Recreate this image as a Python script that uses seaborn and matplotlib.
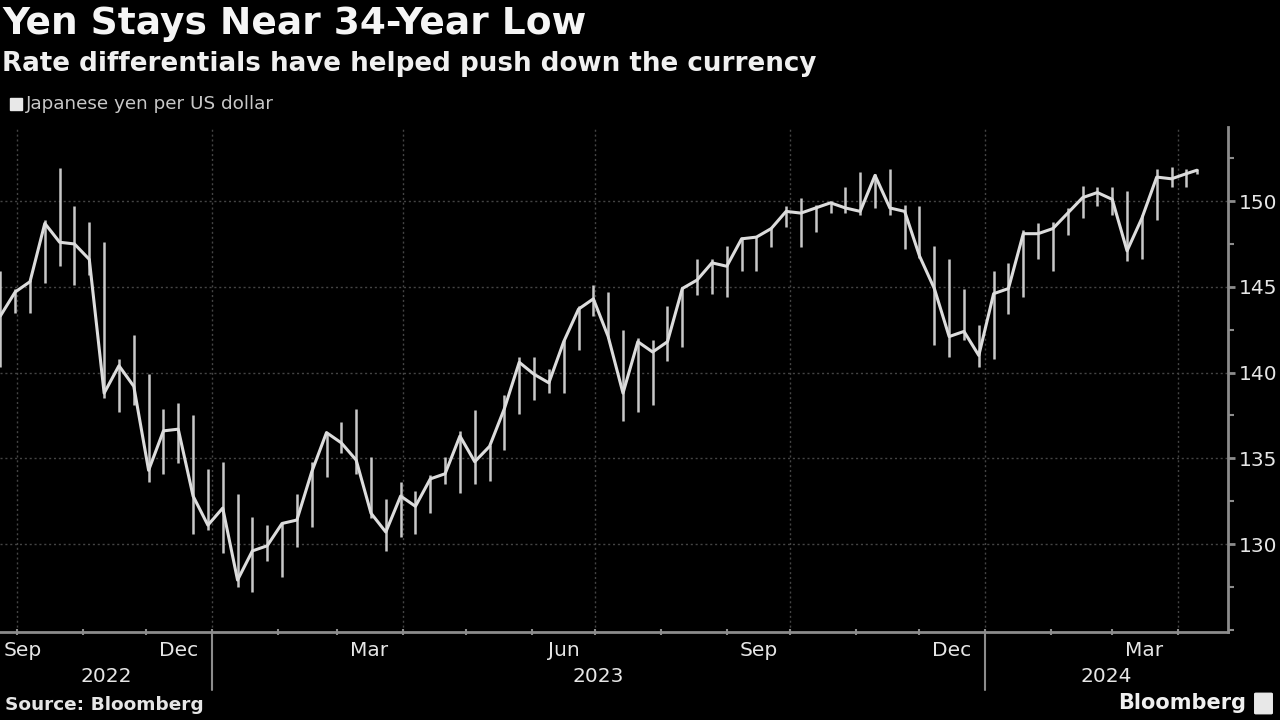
import numpy as np
import pandas as pd
import matplotlib
matplotlib.use("Agg")
import matplotlib.pyplot as plt
import matplotlib.dates as mdates
import matplotlib.transforms as mtransforms
from matplotlib.patches import Rectangle, FancyBboxPatch
from matplotlib.ticker import MultipleLocator, NullFormatter
import seaborn as sns

# ---- data (weekly) ----
week_end = ['2022-09-23', '2022-09-30', '2022-10-07', '2022-10-14', '2022-10-21', '2022-10-28',
            '2022-11-04', '2022-11-11', '2022-11-18', '2022-11-25', '2022-12-02', '2022-12-09',
            '2022-12-16', '2022-12-23', '2022-12-30', '2023-01-06', '2023-01-13', '2023-01-20',
            '2023-01-27', '2023-02-03', '2023-02-10', '2023-02-17', '2023-02-24', '2023-03-03',
            '2023-03-10', '2023-03-17', '2023-03-24', '2023-03-31', '2023-04-07', '2023-04-14',
            '2023-04-21', '2023-04-28', '2023-05-05', '2023-05-12', '2023-05-19', '2023-05-26',
            '2023-06-02', '2023-06-09', '2023-06-16', '2023-06-23', '2023-06-30', '2023-07-07',
            '2023-07-14', '2023-07-21', '2023-07-28', '2023-08-04', '2023-08-11', '2023-08-18',
            '2023-08-25', '2023-09-01', '2023-09-08', '2023-09-15', '2023-09-22', '2023-09-29',
            '2023-10-06', '2023-10-13', '2023-10-20', '2023-10-27', '2023-11-03', '2023-11-10',
            '2023-11-17', '2023-11-24', '2023-12-01', '2023-12-08', '2023-12-15', '2023-12-22',
            '2023-12-29', '2024-01-05', '2024-01-12', '2024-01-19', '2024-01-26', '2024-02-02',
            '2024-02-09', '2024-02-16', '2024-02-23', '2024-03-01', '2024-03-08', '2024-03-15',
            '2024-03-22', '2024-03-29', '2024-04-05', '2024-04-10']
close = [143.3, 144.7, 145.3, 148.7, 147.6, 147.5,
         146.6, 138.8, 140.4, 139.2, 134.3, 136.6,
         136.7, 132.8, 131.1, 132.1, 127.9, 129.6,
         129.9, 131.2, 131.4, 134.2, 136.5, 135.9,
         134.9, 131.8, 130.7, 132.8, 132.2, 133.8,
         134.1, 136.3, 134.8, 135.7, 137.9, 140.6,
         139.9, 139.4, 141.8, 143.7, 144.3, 142.1,
         138.8, 141.8, 141.2, 141.8, 144.9, 145.4,
         146.4, 146.2, 147.8, 147.9, 148.4, 149.4,
         149.3, 149.6, 149.9, 149.6, 149.4, 151.5,
         149.6, 149.4, 146.8, 144.9, 142.1, 142.4,
         141.0, 144.6, 144.9, 148.1, 148.1, 148.4,
         149.3, 150.2, 150.5, 150.1, 147.1, 149.0,
         151.4, 151.3, 151.6, 151.8]
high = [145.9, 144.9, 145.4, 148.9, 151.95, 149.7,
        148.8, 147.6, 140.8, 142.2, 139.9, 137.9,
        138.2, 137.5, 134.4, 134.8, 132.9, 131.6,
        131.1, 131.2, 132.9, 134.8, 136.5, 137.1,
        137.9, 135.1, 132.6, 133.6, 133.1, 134.0,
        135.1, 136.6, 137.8, 135.8, 138.7, 140.9,
        140.9, 140.2, 141.9, 143.9, 145.1, 144.7,
        142.5, 142.0, 141.9, 143.9, 145.0, 146.6,
        146.6, 147.4, 147.9, 147.9, 148.5, 149.7,
        150.2, 149.8, 150.0, 150.8, 151.7, 151.6,
        151.9, 149.8, 149.7, 147.4, 146.6, 144.9,
        142.8, 145.9, 146.4, 148.3, 148.7, 148.8,
        149.6, 150.9, 150.8, 150.8, 150.6, 149.2,
        151.9, 151.97, 151.9, 151.9]
low = [140.3, 143.5, 143.5, 145.2, 146.2, 145.1,
       145.7, 138.5, 137.7, 138.1, 133.6, 134.1,
       134.7, 130.6, 130.8, 129.5, 127.5, 127.2,
       129.0, 128.1, 129.8, 131.0, 133.9, 135.3,
       134.1, 131.5, 129.6, 130.4, 130.6, 131.8,
       133.5, 133.0, 133.5, 133.7, 135.5, 137.6,
       138.4, 138.8, 138.8, 141.3, 143.3, 142.0,
       137.2, 137.7, 138.1, 140.7, 141.5, 144.5,
       144.6, 144.4, 145.9, 145.9, 147.3, 148.5,
       147.3, 148.2, 149.3, 149.3, 149.2, 149.6,
       149.2, 147.2, 146.7, 141.6, 140.9, 141.9,
       140.3, 140.8, 143.4, 144.4, 146.6, 145.9,
       148.0, 149.0, 149.7, 149.2, 146.5, 146.6,
       148.9, 150.8, 150.8, 151.6]

month_labels = ['Sep', 'Dec', 'Mar', 'Jun', 'Sep', 'Dec', 'Mar']
month_label_dates = ['2022-09-01', '2022-12-16', '2023-03-16', '2023-06-16',
                     '2023-09-16', '2023-12-16', '2024-03-16']
year_labels = ['2022', '2023', '2024']
y_ticks = [130, 135, 140, 145, 150]

df = pd.DataFrame({'date': pd.to_datetime(week_end), 'close': close,
                   'high': high, 'low': low})

# ---- style ----
sns.set_style('dark', {'axes.facecolor': 'black', 'figure.facecolor': 'black'})
plt.rcParams['font.family'] = ['DejaVu Sans']

BG = 'black'
LINE = '#dcdcdc'
AXC = '#8c8c8c'
TXT = '#e6e6e6'

fig = plt.figure(figsize=(12.8, 7.2), dpi=100, facecolor=BG)
ax = fig.add_axes([0.0, 0.1222, 1228 / 1280, 505 / 720])
ax.set_facecolor(BG)

x0 = pd.Timestamp('2022-09-22 20:00')
x1 = pd.Timestamp('2024-04-24 16:00')
ax.set_xlim(x0, x1)
ax.set_ylim(124.87, 154.32)

# high-low wicks and close line
ax.vlines(df['date'], df['low'], df['high'], color='#c8c8c8', lw=1.8, zorder=3)
sns.lineplot(data=df, x='date', y='close', ax=ax, color=LINE, lw=2.2, zorder=4,
             estimator=None)
ax.set_xlabel('')
ax.set_ylabel('')

# grid
ax.xaxis.set_major_locator(mdates.MonthLocator(bymonth=[1, 4, 7, 10]))
ax.xaxis.set_minor_locator(mdates.MonthLocator())
ax.xaxis.set_major_formatter(NullFormatter())
ax.xaxis.set_minor_formatter(NullFormatter())
ax.yaxis.set_major_locator(MultipleLocator(5))
ax.yaxis.set_minor_locator(MultipleLocator(2.5))
ax.set_yticks(y_ticks)
ax.grid(True, which='major', axis='both', color='#444444', lw=1.0,
        linestyle=(0, (1.5, 2)))
ax.set_axisbelow(True)

# spines
for s in ['left', 'top']:
    ax.spines[s].set_visible(False)
for s in ['right', 'bottom']:
    ax.spines[s].set_visible(True)
    ax.spines[s].set_color(AXC)
    ax.spines[s].set_linewidth(2)

ax.yaxis.tick_right()
ax.tick_params(axis='y', which='major', colors=AXC, length=5, width=2,
               direction='out', labelcolor=TXT, labelsize=14.5, pad=3, right=True, left=False)
ax.tick_params(axis='y', which='minor', colors=AXC, length=4, width=1.5,
               direction='out', right=True, left=False)
ax.tick_params(axis='x', which='both', colors=AXC, length=5, width=1.5,
               direction='inout', bottom=True)

# month labels
trans = mtransforms.blended_transform_factory(ax.transData, ax.transAxes)
for i, (lab, d) in enumerate(zip(month_labels, month_label_dates)):
    if i == 0:
        ax.text(0.003, -0.036, lab, transform=ax.transAxes, ha='left', va='center',
                color=TXT, fontsize=14.5)
    else:
        ax.text(mdates.date2num(pd.Timestamp(d)), -0.036, lab, transform=trans,
                ha='center', va='center', color=TXT, fontsize=14.5)

# year labels and separators
year_bounds = [x0, pd.Timestamp('2023-01-01'), pd.Timestamp('2024-01-01'), x1]
for i, lab in enumerate(year_labels):
    a = mdates.date2num(year_bounds[i])
    b = mdates.date2num(year_bounds[i + 1])
    ax.text((a + b) / 2, -0.089, lab, transform=trans, ha='center', va='center',
            color=TXT, fontsize=14.5)
for d in year_bounds[1:3]:
    xx = mdates.date2num(d)
    ax.plot([xx, xx], [-0.006, -0.115], transform=trans, color=AXC, lw=1.5,
            clip_on=False)

# titles
fig.text(2 / 1280, 1 - 24 / 720, 'Yen Stays Near 34-Year Low', fontsize=27,
         fontweight='bold', color='#f5f5f5', ha='left', va='center')
fig.text(2 / 1280, 1 - 64 / 720, 'Rate differentials have helped push down the currency',
         fontsize=18.8, fontweight='bold', color='#f0f0f0', ha='left', va='center')

# legend
fig.patches.append(Rectangle((10 / 1280, 1 - 110 / 720), 12 / 1280, 12 / 720,
                             transform=fig.transFigure, color='#e8e8e8'))
fig.text(26 / 1280, 1 - 104 / 720, 'Japanese yen per US dollar', fontsize=13.2,
         color='#c8c8c8', ha='left', va='center')

# footer
fig.text(5 / 1280, 1 - 705 / 720, 'Source: Bloomberg', fontsize=13.3, fontweight='bold',
         color='#e6e6e6', ha='left', va='center')
fig.text(1246 / 1280, 1 - 703 / 720, 'Bloomberg', fontsize=15, fontweight='bold',
         color='#f0f0f0', ha='right', va='center')
fig.patches.append(FancyBboxPatch((1256 / 1280, 1 - 713 / 720), 15 / 1280, 19 / 720,
                                  boxstyle='round,pad=0.001', transform=fig.transFigure,
                                  color='#e8e8e8'))

fig.savefig('out.png', dpi=100, facecolor=BG)
